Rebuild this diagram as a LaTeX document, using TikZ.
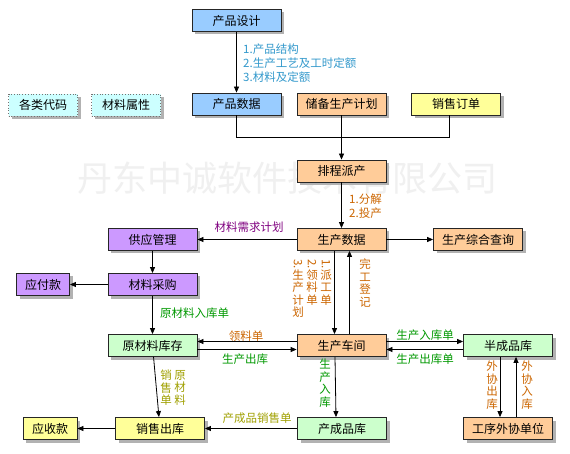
\documentclass[tikz,border=0pt]{standalone}
\usepackage{fontspec}
\setmainfont{Noto Sans CJK SC}
\usepackage{graphicx}
\usetikzlibrary{arrows.meta,shadows}
\definecolor{fblue}{HTML}{99CCFF}
\definecolor{forange}{HTML}{FFCC99}
\definecolor{fyellow}{HTML}{FFFF99}
\definecolor{fgreen}{HTML}{CCFFCC}
\definecolor{fpurple}{HTML}{CC99FF}
\definecolor{fcyan}{HTML}{CCFFFF}
\definecolor{lblue}{HTML}{3399CC}
\definecolor{lbrown}{HTML}{CC6600}
\definecolor{lgreen}{HTML}{009900}
\definecolor{lpurple}{HTML}{800080}
\definecolor{lolive}{HTML}{A0A000}
\begin{document}
\begin{tikzpicture}[x=1pt,y=-1pt,
  box/.style={draw=black!85, line width=0.8pt, minimum width=89pt, minimum height=22pt,
    inner sep=0pt, font=\fontsize{12}{12}\selectfont,
    drop shadow={shadow xshift=3pt, shadow yshift=-3pt, fill=black!30, opacity=1}},
  dotbox/.style={box, draw=black!55, dotted, minimum width=69pt, fill=fcyan},
  arr/.style={-{Triangle[length=6pt,width=5pt]}, line width=0.8pt},
  ln/.style={line width=0.8pt},
  lbl/.style={inner sep=0pt, font=\fontsize{11.5}{14}\selectfont},
  vlbl/.style={inner sep=0pt, font=\fontsize{11.5}{12.5}\selectfont, align=center, anchor=north}]
\useasboundingbox (0,0) rectangle (570,454);
\fill[white] (0,0) rectangle (570,454);
% watermark
\node[text=black!6, inner sep=0pt, font=\fontsize{35}{35}\selectfont] (wm) at (287,178) {丹东中诚软件技术有限公司};
% boxes
\node[box, fill=fblue] (design) at (236.5,20.5) {产品设计};
\node[dotbox] (codes) at (43,105) {各类代码};
\node[dotbox] (attrs) at (126,105) {材料属性};
\node[box, fill=fblue] (pdata) at (236.5,104) {产品数据};
\node[box, fill=forange] (reserve) at (341.5,104) {储备生产计划};
\node[box, fill=fyellow] (order) at (456,104) {销售订单};
\node[box, fill=forange] (sched) at (341.5,171) {排程派产};
\node[box, fill=forange] (prod) at (341.5,239.5) {生产数据};
\node[box, fill=forange] (query) at (478,239.5) {生产综合查询};
\node[box, fill=fpurple] (supply) at (152.5,239.5) {供应管理};
\node[box, fill=fpurple] (purchase) at (152.5,284.5) {材料采购};
\node[box, fill=fpurple, minimum width=53pt] (payable) at (43,284.5) {应付款};
\node[box, fill=fgreen] (raw) at (152.5,345.5) {原材料库存};
\node[box, fill=forange] (shop) at (341.5,345.5) {生产车间};
\node[box, fill=fgreen] (semi) at (508,345.5) {半成品库};
\node[box, fill=fyellow, minimum width=54pt] (recv) at (50,428.5) {应收款};
\node[box, fill=fyellow] (sales) at (160,428.5) {销售出库};
\node[box, fill=fgreen] (finished) at (342,428.5) {产成品库};
\node[box, fill=forange] (outsrc) at (508,428.5) {工序外协单位};
% connectors
\draw[arr] (design) -- (pdata);
\coordinate (jy) at (0,137);
\coordinate (ordfoot) at ([xshift=-7pt]order.south);
\draw[ln] (pdata.south) |- (ordfoot |- jy) -- (ordfoot);
\draw[arr] (reserve) -- (sched);
\draw[arr] (sched) -- (prod);
\draw[arr] (prod) -- (supply);
\draw[arr] (prod) -- (query);
\draw[arr] (supply) -- (purchase);
\draw[arr] (purchase) -- (payable);
\draw[arr] (purchase) -- (raw);
\draw[arr] (raw) -- (sales);
\draw[arr] (sales) -- (recv);
\draw[arr] (finished) -- (sales);
\draw[arr] ([xshift=-7pt]prod.south) -- ([xshift=-7pt]shop.north);
\draw[arr] ([xshift=8pt]shop.north) -- ([xshift=8pt]prod.south);
\draw[arr] ([yshift=4pt]shop.west) -- ([yshift=4pt]raw.east);
\draw[arr] ([yshift=-4pt]raw.east) -- ([yshift=-4pt]shop.west);
\draw[arr] ([yshift=4pt]shop.east) -- ([yshift=4pt]semi.west);
\draw[arr] ([yshift=-4pt]semi.west) -- ([yshift=-4pt]shop.east);
\draw[arr] ([xshift=-6.5pt]shop.south) -- ([xshift=-6pt]finished.north);
\draw[arr] ([xshift=-8pt]semi.south) -- ([xshift=-8pt]outsrc.north);
\draw[arr] ([xshift=8pt]outsrc.north) -- ([xshift=8pt]semi.south);
% labels
\node[lbl, text=lblue, anchor=west, align=left] (ldesign) at (243,63) {1.产品结构\\2.生产工艺及工时定额\\3.材料及定额};
\node[lbl, text=lbrown, anchor=west, align=left] (lsched) at (349,206.5) {1.分解\\2.投产};
\node[lbl, text=lpurple] (lneed) at (249,227) {材料需求计划};
\node[lbl, text=lgreen, anchor=west] (lrawin) at (160,313) {原材料入库单};
\node[lbl, text=lbrown] (lpick) at (246,336) {领料单};
\node[lbl, text=lgreen] (lprodout) at (245,359) {生产出库};
\node[lbl, text=lgreen] (lsemiin) at (425,335) {生产入库单};
\node[lbl, text=lgreen] (lsemiout) at (425,359) {生产出库单};
\node[lbl, text=lolive] (lfinsale) at (257,418) {产成品销售单};
\node[vlbl, text=lbrown] (lc1) at (326,259) {\rotatebox{-90}{1.}\\派\\工\\单};
\node[vlbl, text=lbrown] (lc2) at (312,259) {\rotatebox{-90}{2.}\\领\\料\\单};
\node[vlbl, text=lbrown] (lc3) at (298,259) {\rotatebox{-90}{3.}\\生\\产\\计\\划};
\node[vlbl, text=lbrown] (ldone) at (365,259) {完\\工\\登\\记};
\node[vlbl, text=lgreen] (lfinin) at (325,359) {生\\产\\入\\库};
\node[vlbl, text=lolive] (lrs1) at (180,370) {原\\材\\料};
\node[vlbl, text=lolive] (lrs2) at (166,370) {销\\售\\单};
\node[vlbl, text=lbrown] (loutout) at (492,361) {外\\协\\出\\库};
\node[vlbl, text=lbrown] (loutin) at (527,361) {外\\协\\入\\库};
\end{tikzpicture}
\end{document}
